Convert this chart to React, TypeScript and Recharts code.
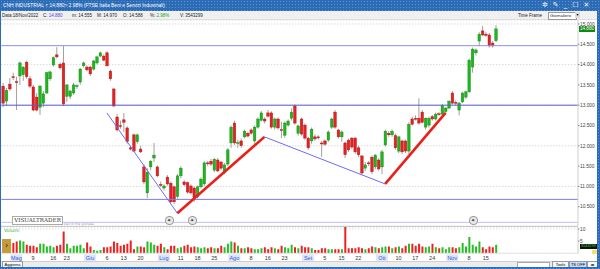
import React from "react";
import {
  ComposedChart,
  BarChart,
  Bar,
  Cell,
  XAxis,
  YAxis,
  CartesianGrid,
  ReferenceLine,
} from "recharts";

// daily candles [open, high, low, close], late April -> 18 Nov 2022
const OHLC: [number, number, number, number][] = [
  [13.47, 13.55, 12.95, 13.05], [13.1, 13.42, 12.98, 13.37], [13.52, 13.67, 13.35, 13.4], [13.7, 13.8, 13.62, 13.69],
  [13.58, 13.7, 12.88, 13.56], [13.72, 14.08, 13.5, 14.04], [13.75, 13.96, 13.6, 13.94], [14.06, 14.1, 13.65, 13.7],
  [13.65, 13.72, 13.42, 13.47], [13.45, 13.5, 12.85, 12.88], [13.2, 13.3, 12.85, 12.88], [12.95, 13.5, 12.76, 13.47],
  [13.05, 13.35, 12.95, 13.28], [13.3, 13.82, 13.28, 13.8], [13.65, 13.85, 13.6, 13.82], [13.99, 14.2, 13.95, 14.17],
  [14.24, 14.43, 14.15, 14.19], [14.01, 14.05, 13.88, 13.92], [14.04, 14.46, 12.98, 13.03], [13.22, 13.52, 13.08, 13.5],
  [13.22, 13.38, 13.15, 13.35], [13.3, 13.55, 13.25, 13.5], [13.46, 13.52, 13.4, 13.48], [13.57, 13.92, 13.5, 13.89],
  [13.97, 14.08, 13.93, 14.04], [13.94, 13.98, 13.83, 13.87], [13.94, 13.97, 13.72, 13.77], [13.89, 14.12, 13.85, 14.09],
  [14.04, 14.22, 14.0, 14.19], [14.21, 14.32, 14.18, 14.29], [14.21, 14.25, 14.08, 14.11], [14.29, 14.33, 13.95, 13.97],
  [13.84, 13.88, 13.6, 13.65], [13.4, 13.42, 12.95, 12.98], [12.71, 12.78, 12.35, 12.39], [12.5, 12.62, 12.42, 12.48],
  [12.64, 12.81, 12.34, 12.58], [12.44, 12.48, 12.05, 12.1], [11.95, 12.0, 11.88, 11.92], [12.27, 12.3, 11.85, 11.87],
  [12.1, 12.3, 12.05, 12.27], [11.92, 12.0, 11.82, 11.85], [11.48, 11.55, 11.05, 11.11], [10.84, 11.45, 10.71, 11.35],
  [11.48, 11.65, 11.4, 11.62], [11.7, 12.07, 11.6, 11.77], [11.48, 11.52, 11.22, 11.26], [11.05, 11.12, 10.98, 11.04],
  [10.96, 11.05, 10.9, 11.01], [11.23, 11.28, 11.02, 11.06], [11.08, 11.12, 10.58, 10.62], [10.99, 11.02, 10.56, 10.62],
  [10.75, 11.3, 10.7, 11.26], [11.26, 11.5, 11.2, 11.45], [11.11, 11.15, 11.0, 11.04], [11.09, 11.12, 10.82, 10.86],
  [11.01, 11.05, 10.8, 10.84], [10.96, 11.0, 10.62, 10.72], [10.75, 11.02, 10.7, 10.99], [10.99, 11.22, 10.95, 11.18],
  [11.06, 11.62, 11.0, 11.58], [11.58, 11.62, 11.5, 11.57], [11.62, 11.68, 11.5, 11.55], [11.4, 11.7, 11.35, 11.67],
  [11.65, 11.7, 11.35, 11.38], [11.6, 11.63, 11.4, 11.45], [11.35, 11.58, 11.3, 11.53], [11.55, 11.95, 11.5, 11.9],
  [12.07, 12.5, 11.95, 12.46], [12.56, 12.62, 12.02, 12.07], [12.06, 12.15, 11.95, 12.08], [12.12, 12.18, 11.95, 12.0],
  [12.22, 12.4, 12.18, 12.36], [12.31, 12.35, 12.2, 12.24], [12.39, 12.43, 12.28, 12.31], [12.12, 12.5, 12.05, 12.46],
  [12.46, 12.7, 12.42, 12.66], [12.63, 12.86, 12.6, 12.81], [12.66, 12.7, 12.55, 12.61], [12.81, 12.88, 12.7, 12.73],
  [12.81, 12.85, 12.42, 12.46], [12.46, 12.7, 12.4, 12.66], [12.66, 12.7, 12.4, 12.44], [12.4, 12.59, 12.19, 12.39],
  [12.26, 12.6, 12.2, 12.56], [12.51, 12.65, 12.47, 12.61], [12.68, 12.92, 12.62, 12.83], [12.98, 13.02, 12.52, 12.56],
  [12.31, 12.52, 12.25, 12.49], [12.66, 12.7, 12.25, 12.29], [12.51, 12.55, 12.15, 12.19], [12.19, 12.22, 11.9, 11.95],
  [12.12, 12.45, 12.05, 12.41], [12.22, 12.28, 12.12, 12.17], [12.22, 12.26, 12.15, 12.21], [12.07, 12.12, 11.73, 12.06],
  [12.12, 12.15, 12.0, 12.04], [12.14, 12.38, 12.1, 12.34], [12.46, 12.7, 12.42, 12.66], [12.83, 12.88, 12.42, 12.46],
  [12.39, 12.42, 12.18, 12.22], [12.22, 12.38, 12.1, 12.34], [12.07, 12.1, 11.7, 11.78], [12.14, 12.18, 11.85, 11.9],
  [12.19, 12.22, 11.92, 11.97], [12.19, 12.22, 11.8, 11.85], [11.95, 12.0, 11.72, 11.78], [11.75, 11.78, 11.28, 11.33],
  [11.45, 11.6, 11.38, 11.53], [11.58, 11.62, 11.5, 11.57], [11.72, 11.76, 11.3, 11.36], [11.48, 11.8, 11.42, 11.77],
  [11.65, 11.7, 11.38, 11.43], [11.48, 11.9, 11.3, 11.85], [12.02, 12.4, 11.98, 12.36], [12.31, 12.36, 12.22, 12.27],
  [12.27, 12.4, 12.22, 12.36], [12.25, 12.3, 11.9, 11.95], [11.87, 12.25, 11.82, 12.22], [12.12, 12.15, 11.8, 11.85],
  [12.12, 12.15, 11.82, 11.87], [11.87, 12.58, 11.8, 12.53], [12.66, 12.72, 12.5, 12.53], [12.68, 12.75, 12.62, 12.67],
  [12.68, 13.17, 12.52, 12.56], [12.83, 12.88, 12.55, 12.58], [12.46, 12.7, 12.4, 12.68], [12.51, 12.72, 12.45, 12.68],
  [12.72, 12.76, 12.62, 12.66], [12.66, 12.82, 12.62, 12.78], [12.79, 12.83, 12.74, 12.78], [12.78, 13.03, 12.75, 13.0],
  [12.84, 12.95, 12.8, 12.93], [12.93, 13.12, 12.9, 13.1], [13.3, 13.35, 13.02, 13.05], [13.07, 13.12, 13.0, 13.06],
  [12.88, 13.08, 12.75, 13.05], [13.08, 13.33, 13.05, 13.3], [13.2, 13.36, 13.15, 13.33], [13.33, 14.15, 13.3, 14.11],
  [13.94, 14.42, 13.8, 14.38], [14.29, 14.4, 14.22, 14.36], [14.58, 14.8, 14.45, 14.75], [14.83, 14.95, 14.7, 14.73],
  [14.75, 14.8, 14.68, 14.72], [14.73, 14.78, 14.42, 14.46], [14.53, 14.58, 14.42, 14.46], [14.588, 14.97, 14.555, 14.88],
];

// volume, millions of shares
const VOLUME = [
  2.8, 3.5,
  3.5, 4.2, 4.9, 5.3, 4.9, 3.5, 3.1, 3.1, 2.5, 3.9,
  3.9, 2.8, 3.1, 2.5, 3.1, 3.5, 9.0, 3.9, 2.1, 3.1,
  3.1, 3.5, 2.1, 4.4, 2.8, 1.4, 1.1, 1.4, 2.5, 2.5,
  2.8, 4.9, 4.2, 3.1, 3.5, 3.9, 5.3, 1.7, 2.8, 2.8,
  2.5, 4.9, 4.4, 3.5, 3.1, 3.9, 2.5, 1.7, 3.1, 3.1,
  2.1, 2.5, 3.1, 3.5, 2.5, 2.8, 2.5, 2.1, 2.5, 2.1,
  2.5, 2.1, 2.1, 3.1, 2.5, 3.9, 4.9, 4.4, 3.1, 2.1,
  2.1, 2.5, 2.1, 1.7, 1.7, 2.1, 2.5, 1.7, 2.5, 2.1,
  1.7, 3.1, 2.5, 2.1, 3.5, 2.5, 2.1,
  3.1, 2.5, 2.5, 2.1, 1.4, 1.4, 2.1, 2.1, 1.7, 1.7,
  1.7, 1.7, 1.7, 10.8, 2.1, 2.1, 2.1, 2.5, 2.1, 1.7,
  2.1, 2.8, 2.5, 2.1, 2.5, 2.8, 2.8, 2.1, 2.5, 2.8,
  2.1, 3.1, 3.9, 3.9, 3.1, 3.9, 2.8, 2.5, 2.8, 3.9,
  2.5, 2.1, 2.5, 1.7, 2.5, 2.5, 2.1, 2.5, 4.2, 2.8,
  6.7, 3.5, 2.8, 4.9, 2.5, 1.7, 2.8, 2.5, 3.54,
];

const SLOTS = 172; // candles + empty space on the right
const PRICE_TICKS = [10.5, 11, 11.5, 12, 12.5, 13, 13.5, 14, 14.5, 15];
const VOL_TICKS = [5, 10];
const TICK_AT = [5, 10, 16, 20, 27, 32, 37, 42, 49, 54, 59, 64, 70, 75, 80, 85, 92, 97, 102, 107, 114, 119, 124, 129, 135, 140, 145];
const TICK_LABELS = ["Mag", "9", "16", "23", "Giu", "6", "13", "20", "Lug", "11", "18", "25", "Ago", "8", "16", "23", "Set", "5", "15", "22", "Ott", "10", "17", "24", "Nov", "8", "15"];
const MONTHS = ["Mag", "Giu", "Lug", "Ago", "Set", "Ott", "Nov"];

// horizontal supports / resistances
const LEVELS = [14.466, 13.0, 10.68, 10.115];
const LEVEL_COLORS = ["#8f8fe8", "#5c5cd8", "#7d7de6", "#bdbdf2"];

// trend lines: [candle, price] -> [candle, price]
const TRENDS: [[number, number], [number, number]][] = [
  [[32, 12.81], [53, 10.34]],
  [[53, 10.34], [79, 12.22]],
  [[79, 12.22], [115, 11.06]],
  [[115, 11.06], [133, 12.81]],
];
const TREND_RED = [false, true, false, true];

const UP = "#1fb51f";
const DOWN = "#e32222";
const AXIS_FONT = "'Liberation Sans', Arial, sans-serif";

function Candle(props: any) {
  const { x, y, width, height, payload } = props;
  if (!payload || payload.o == null) return null;
  const { o, h, l, c } = payload;
  const top = Math.min(y, y + height);
  const span = Math.abs(height);
  const ppu = span / (h - l || 1);
  const cx = x + width / 2;
  const yO = top + (h - o) * ppu;
  const yC = top + (h - c) * ppu;
  const up = c >= o;
  return (
    <g>
      <line x1={cx} x2={cx} y1={top} y2={top + span} stroke="#a0a0a0" strokeWidth={1} />
      <rect
        x={cx - 1.3}
        y={Math.min(yO, yC)}
        width={2.6}
        height={Math.max(1, Math.abs(yO - yC))}
        fill={up ? UP : DOWN}
        stroke={up ? "#128a12" : "#b01414"}
        strokeWidth={0.4}
      />
    </g>
  );
}

function DateTick(props: any) {
  const { x, y, payload } = props;
  const label = TICK_LABELS[TICK_AT.indexOf(payload.value)];
  if (!label) return null;
  const month = MONTHS.includes(label);
  return (
    <g>
      {month && <rect x={x - 6} y={y + 1} width={12} height={6.5} fill="#dce6fb" />}
      <text x={x} y={y + 6.3} textAnchor="middle" fontSize={5.5} fontFamily={AXIS_FONT} fill={month ? "#3a55e0" : "#333"}>
        {label}
      </text>
    </g>
  );
}

const abs = (l: number, t: number, extra: React.CSSProperties = {}): React.CSSProperties => ({
  position: "absolute",
  left: l,
  top: t,
  whiteSpace: "nowrap",
  ...extra,
});

const info = { fontSize: 4.5, lineHeight: "7px", color: "#222", fontFamily: AXIS_FONT };

export default function App() {
  const data = Array.from({ length: SLOTS }, (_, k) => {
    const q = OHLC[k];
    return q ? { i: k + 1, o: q[0], h: q[1], l: q[2], c: q[3], v: VOLUME[k] } : { i: k + 1 };
  });
  const blue = "#2c6cb6";
  const dots = {
    background: blue,
    backgroundImage: "radial-gradient(#5d92d2 0.6px, transparent 0.8px)",
    backgroundSize: "3px 3px",
  };
  const axisTick = { fontSize: 4.8, fill: "#444", fontFamily: AXIS_FONT };

  return (
    <div style={abs(0, 0, { width: 600, height: 269, background: "#fff", overflow: "hidden", fontFamily: "'DejaVu Sans', sans-serif" })}>
      {/* price panel */}
      <div style={abs(0, 0)}>
        <ComposedChart width={597} height={227} data={data} margin={{ top: 20, right: 3, bottom: 1, left: 1.3 }}>
          <CartesianGrid vertical={false} stroke="#c6c6c6" strokeDasharray="1 2" />
          <XAxis dataKey="i" type="category" hide />
          <YAxis
            orientation="right"
            width={16}
            domain={[10.0246, 15.0985]}
            allowDataOverflow
            ticks={PRICE_TICKS}
            tickFormatter={(v: number) => v.toFixed(3)}
            tick={axisTick}
            tickSize={1.5}
            tickMargin={0.5}
            axisLine={{ stroke: "#cfcfcf" }}
            tickLine={{ stroke: "#888" }}
          />
          {LEVELS.map((lv, k) => (
            <ReferenceLine key={"l" + k} y={lv} stroke={LEVEL_COLORS[k]} strokeWidth={1} />
          ))}
          <Bar
            dataKey={(d: any) => (d.o == null ? null : [d.l, d.h])}
            shape={(p: any) => <Candle {...p} />}
            isAnimationActive={false}
          />
          {TRENDS.map((t, k) => (
            <ReferenceLine
              key={"t" + k}
              segment={[{ x: t[0][0], y: t[0][1] }, { x: t[1][0], y: t[1][1] }]}
              stroke={TREND_RED[k] ? "#ea1f1a" : "#6d6df2"}
              strokeWidth={TREND_RED[k] ? 2.6 : 1}
            />
          ))}
        </ComposedChart>
      </div>

      {/* volume panel */}
      <div style={abs(0, 226)}>
        <BarChart width={597} height={43} data={data} margin={{ top: 1, right: 3, bottom: 3, left: 1.3 }}>
          <CartesianGrid vertical={false} stroke="#d0d0d0" strokeDasharray="1 2" />
          <XAxis
            dataKey="i"
            type="category"
            ticks={TICK_AT}
            interval={0}
            height={12.7}
            tickSize={0}
            tickMargin={0}
            tickLine={false}
            axisLine={{ stroke: "#e4e4e4" }}
            tick={<DateTick />}
          />
          <YAxis
            orientation="right"
            width={16}
            domain={[0, 10.82]}
            allowDataOverflow
            ticks={VOL_TICKS}
            tick={axisTick}
            tickSize={1.5}
            tickMargin={0.5}
            axisLine={{ stroke: "#cfcfcf" }}
            tickLine={{ stroke: "#888" }}
          />
          <Bar dataKey="v" barSize={2} isAnimationActive={false}>
            {data.map((d: any, k) => (
              <Cell key={k} fill={d.c >= d.o ? "#22c022" : "#ee2020"} />
            ))}
          </Bar>
        </BarChart>
      </div>

      {/* title bar */}
      <div style={abs(0, 0, { width: 600, height: 11, ...dots })} />
      <div style={abs(3, 1.5, { fontSize: 4.9, color: "#fff", lineHeight: "8px", fontFamily: AXIS_FONT })}>
        CNH INDUSTRIAL &lt; 14.880&gt; 2.98% (FTSE Italia Beni e Servizi Industriali)
      </div>
      <div style={abs(542, 1, { fontSize: 7, color: "#fff", lineHeight: "9px", letterSpacing: 5 })}>✲✎_☐✕</div>

      {/* info row */}
      <div style={abs(1, 11, { width: 596, height: 8, background: "#f0f0f0", borderBottom: "1px solid #dedede" })} />
      <div style={abs(2, 12, info)}>Data:18/Nov/2022</div>
      <div style={abs(43, 12, info)}>C: <span style={{ color: "#5b3de0" }}>14.880</span></div>
      <div style={abs(72, 12, info)}>m: 14.555</div>
      <div style={abs(97, 12, info)}>M: 14.970</div>
      <div style={abs(123, 12, info)}>O: 14.588</div>
      <div style={abs(150, 12, info)}>%: <span style={{ color: "#18a018" }}>2.98%</span></div>
      <div style={abs(180, 12, info)}>V: 3543299</div>
      <div style={abs(518, 12, info)}>Time Frame</div>
      <div style={abs(548, 11.5, { width: 26, height: 6, background: "#fff", border: "0.5px solid #999", fontSize: 4.3, lineHeight: "6px", paddingLeft: 1, color: "#222", fontFamily: AXIS_FONT })}>
        Giornaliero
      </div>
      <div style={abs(575, 12, { width: 5, height: 6, background: "#ddd", fontSize: 4, lineHeight: "6px", textAlign: "center" })}>▾</div>

      {/* price label box */}
      <div style={abs(579, 26, { width: 16, height: 6, background: "#128a12", color: "#fff", fontSize: 4.6, lineHeight: "6px", textAlign: "center", fontFamily: AXIS_FONT })}>14.880</div>

      {/* logo & event markers */}
      <div style={abs(12, 216, { width: 49, height: 7, background: "#fff", border: "0.5px solid #aaa", fontFamily: "'DejaVu Serif', serif", fontSize: 5.6, lineHeight: "7px", color: "#333", textAlign: "center" })}>
        VISUALTRADER
      </div>
      <div style={abs(64, 222, { fontSize: 3, color: "#999", lineHeight: "4px" })}>Dati di fine giornata</div>
      {[168, 191, 472].map((x) => (
        <div key={x} style={abs(x - 3.5, 215.5, { width: 7, height: 7, borderRadius: 4, background: "#e8e8e8", border: "0.5px solid #999", fontSize: 5, lineHeight: "7px", textAlign: "center", color: "#333" })}>
          ✦
        </div>
      ))}

      {/* volume panel decorations */}
      <div style={abs(1, 226, { width: 577, height: 0.8, background: "#c8c8c8" })} />
      <div style={abs(4, 228, { fontSize: 4.5, color: "#2bb52b", lineHeight: "5px" })}>Volumi</div>
      <div style={abs(2, 239, { width: 9, height: 14, background: "#c79a3a", color: "#222", fontSize: 8, lineHeight: "14px", textAlign: "center" })}>›</div>
      <div style={abs(580, 244, { width: 17, height: 5, background: "#111", color: "#3cd03c", fontSize: 3.8, lineHeight: "5px", textAlign: "center", fontFamily: AXIS_FONT })}>3543299</div>
      <div style={abs(592, 250, { width: 5, height: 4, background: "#f2e36a" })} />

      {/* bottom toolbar */}
      <div style={abs(1, 260.5, { width: 596, height: 6.5, background: "#ececec", borderTop: "0.5px solid #cfcfcf" })} />
      <div style={abs(2, 261, { width: 19, height: 5.5, background: "#f8f8f8", border: "0.5px solid #999", fontSize: 4, lineHeight: "5.5px", textAlign: "center", fontFamily: AXIS_FONT })}>Aggiorna</div>
      <div style={abs(517, 261.5, { width: 31, height: 5, background: "#fff", border: "0.5px solid #aaa" })} />
      <div style={abs(552, 261, { width: 15, height: 5.5, background: "#f6f6f6", border: "0.5px solid #999", fontSize: 4, lineHeight: "5.5px", textAlign: "center", fontFamily: AXIS_FONT })}>Tools</div>
      <div style={abs(569, 261, { width: 16, height: 5.5, background: "#cfdcf0", border: "0.5px solid #7f9bd0", fontSize: 4, lineHeight: "5.5px", textAlign: "center", fontFamily: AXIS_FONT })}>TS OFF</div>
      <div style={abs(587, 261, { width: 9, height: 5.5, background: "#f6f6f6", border: "0.5px solid #999", fontSize: 4, lineHeight: "5.5px", textAlign: "center" })}>◂▸</div>

      {/* window frame */}
      <div style={abs(0, 11, { width: 1, height: 258, background: blue })} />
      <div style={abs(597, 11, { width: 3, height: 258, ...dots })} />
      <div style={abs(0, 267, { width: 600, height: 2, ...dots })} />
    </div>
  );
}
